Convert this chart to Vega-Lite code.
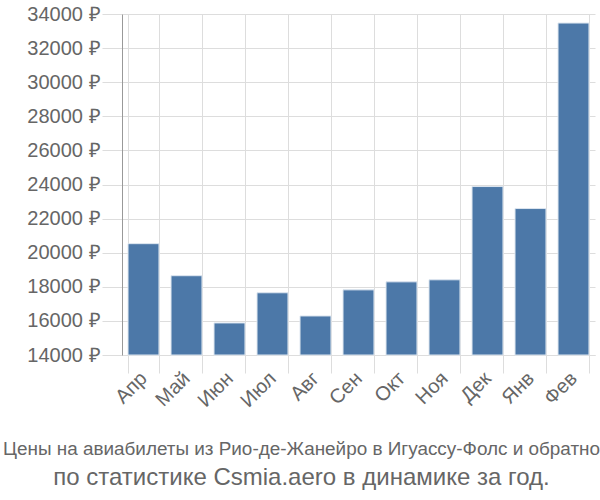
{
  "$schema": "https://vega.github.io/schema/vega-lite/v6.json",
  "autosize": "none",
  "width": 473,
  "height": 341,
  "padding": {"left": 122, "top": 14, "right": 5, "bottom": 145},
  "background": "white",
  "data": {"values": [
    {"month": "Апр", "price": 20530},
    {"month": "Май", "price": 18650},
    {"month": "Июн", "price": 15880},
    {"month": "Июл", "price": 17650},
    {"month": "Авг", "price": 16290},
    {"month": "Сен", "price": 17820},
    {"month": "Окт", "price": 18290},
    {"month": "Ноя", "price": 18410},
    {"month": "Дек", "price": 23880},
    {"month": "Янв", "price": 22590},
    {"month": "Фев", "price": 33470}
  ]},
  "title": {
    "text": "Цены на авиабилеты из Рио-де-Жанейро в Игуассу-Фолс и обратно",
    "subtitle": "по статистике Csmia.aero в динамике за год.",
    "orient": "bottom",
    "anchor": "middle",
    "offset": 29,
    "font": "Liberation Sans",
    "fontSize": 18.9,
    "fontWeight": "normal",
    "color": "#666666",
    "subtitleFont": "Liberation Sans",
    "subtitleFontSize": 24,
    "subtitleColor": "#666666",
    "subtitlePadding": 7,
    "dx": -57
  },
  "mark": {"type": "bar", "color": "#4c78a8", "stroke": "#dde6f0", "strokeWidth": 1},
  "encoding": {
    "x": {
      "field": "month", "type": "nominal", "sort": null,
      "scale": {"paddingInner": 0.28, "paddingOuter": 0.14},
      "axis": {
        "title": null, "labelAngle": -45, "labelAlign": "right", "labelBaseline": "middle",
        "labelFont": "Liberation Sans", "labelFontSize": 20, "labelColor": "#666666",
        "grid": true, "gridColor": "#dddddd", "bandPosition": 0,
        "tickColor": "#dddddd", "tickSize": 18, "tickBand": "extent",
        "domainColor": "#dddddd", "labelPadding": 2, "labelOverlap": false
      }
    },
    "y": {
      "field": "price", "type": "quantitative",
      "scale": {"domain": [14000, 34000], "nice": false, "zero": false},
      "axis": {
        "title": null, "values": [14000,16000,18000,20000,22000,24000,26000,28000,30000,32000,34000],
        "labelExpr": "datum.value + ' ₽'", "labelOverlap": false,
        "labelFont": "Liberation Sans", "labelFontSize": 20, "labelColor": "#666666",
        "gridColor": "#dddddd", "tickColor": "#dddddd", "tickSize": 20,
        "domainColor": "#999999", "labelPadding": 2
      }
    },
    "y2": {"datum": 14000}
  },
  "config": {"view": {"stroke": null}}
}
